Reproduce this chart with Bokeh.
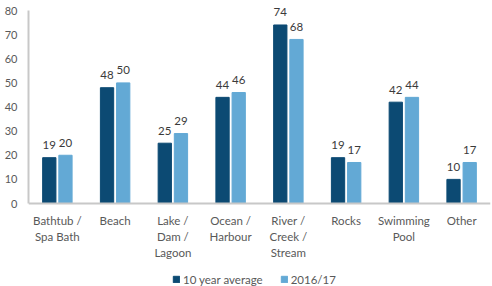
from bokeh.plotting import figure
from bokeh.models import (ColumnDataSource, FactorRange, Range1d, Legend, LegendItem,
                          LabelSet, Span)
from bokeh.core.properties import value
from bokeh.transform import dodge
from bokeh.embed import file_html
from bokeh.resources import INLINE

categories = ["Bathtub /\nSpa Bath", "Beach", "Lake /\nDam /\nLagoon", "Ocean /\nHarbour",
              "River /\nCreek /\nStream", "Rocks", "Swimming\nPool", "Other"]
ten_year_avg = [19, 48, 25, 44, 74, 19, 42, 10]
season_2016_17 = [20, 50, 29, 46, 68, 17, 44, 17]
y_ticks = [0, 10, 20, 30, 40, 50, 60, 70, 80]
y_max = 80

DARK = "#0c4a73"
LIGHT = "#63a9d5"
AXIS_GREY = "#c8c8c8"
TEXT_GREY = "#595959"
FONT = "Lato"

# pixel layout: plot area spans the full canvas height so that the category
# labels and the legend underneath the baseline can live inside it
HEIGHT = 286
TOP_PX = 10      # where y_max sits
BASE_PX = 203    # where 0 sits
px_per_unit = (BASE_PX - TOP_PX) / y_max
y_lo = -(HEIGHT - BASE_PX) / px_per_unit
y_hi = y_max + TOP_PX / px_per_unit

# each category name broken into its separate, individually centred lines
n_lines = max(c.count("\n") + 1 for c in categories)
name_lines = [c.split("\n") + [""] * (n_lines - c.count("\n") - 1) for c in categories]

data = dict(
    cat=categories,
    avg=ten_year_avg,
    cur=season_2016_17,
    avg_lbl=[str(v) for v in ten_year_avg],
    cur_lbl=[str(v) for v in season_2016_17],
    zero=[0] * len(categories),
)
for i in range(n_lines):
    data[f"line{i}"] = [lines[i] for lines in name_lines]
source = ColumnDataSource(data)

p = figure(frame_width=462, frame_height=HEIGHT, output_backend="svg",
           toolbar_location=None, x_axis_location=None,
           x_range=FactorRange(factors=categories, range_padding=0),
           y_range=Range1d(y_lo, y_hi),
           min_border_left=28, min_border_right=2, min_border_top=0, min_border_bottom=0)

r_avg = p.vbar(x=dodge("cat", -0.14, range=p.x_range), top="avg", width=0.23,
               source=source, color=DARK)
r_cur = p.vbar(x=dodge("cat", 0.14, range=p.x_range), top="cur", width=0.23,
               source=source, color=LIGHT)

# value labels centred a little above each bar
for col, off in (("avg", -0.14), ("cur", 0.14)):
    p.add_layout(LabelSet(x=dodge("cat", off, range=p.x_range), y=col, text=col + "_lbl",
                          source=source, text_align="center", text_baseline="middle",
                          y_offset=12.5, text_font=value(FONT), text_font_size="11.5px",
                          text_color="#3a3a3a"))

# baseline and category names under it
p.add_layout(Span(location=0, dimension="width", line_color=AXIS_GREY, line_width=2))
for i in range(n_lines):
    p.add_layout(LabelSet(x="cat", y="zero", text=f"line{i}", source=source,
                          text_align="center", text_baseline="middle",
                          y_offset=-17 - 16 * i,
                          text_font=value(FONT), text_font_size="11.5px",
                          text_color=TEXT_GREY))

p.xgrid.visible = False
p.ygrid.visible = False
p.outline_line_color = None

yax = p.yaxis[0]
yax.bounds = (0, y_max)
yax.ticker = y_ticks
yax.axis_line_color = AXIS_GREY
yax.axis_line_width = 2
yax.major_tick_line_color = None
yax.minor_tick_line_color = None
yax.major_tick_out = 0
yax.major_tick_in = 0
yax.minor_tick_out = 0
yax.major_label_text_font = FONT
yax.major_label_text_font_size = "11px"
yax.major_label_text_color = TEXT_GREY
yax.major_label_standoff = 11

legend = Legend(items=[LegendItem(label="10 year average", renderers=[r_avg]),
                       LegendItem(label="2016/17", renderers=[r_cur])],
                orientation="horizontal", location=(144, 0),
                label_text_font=FONT, label_text_font_size="11.5px",
                label_text_color=TEXT_GREY, glyph_width=8, glyph_height=8,
                label_height=14, spacing=17, padding=0, margin=0,
                border_line_color=None, background_fill_alpha=0, label_standoff=3)
p.add_layout(legend)

open("out.html", "w").write(file_html(p, INLINE))
